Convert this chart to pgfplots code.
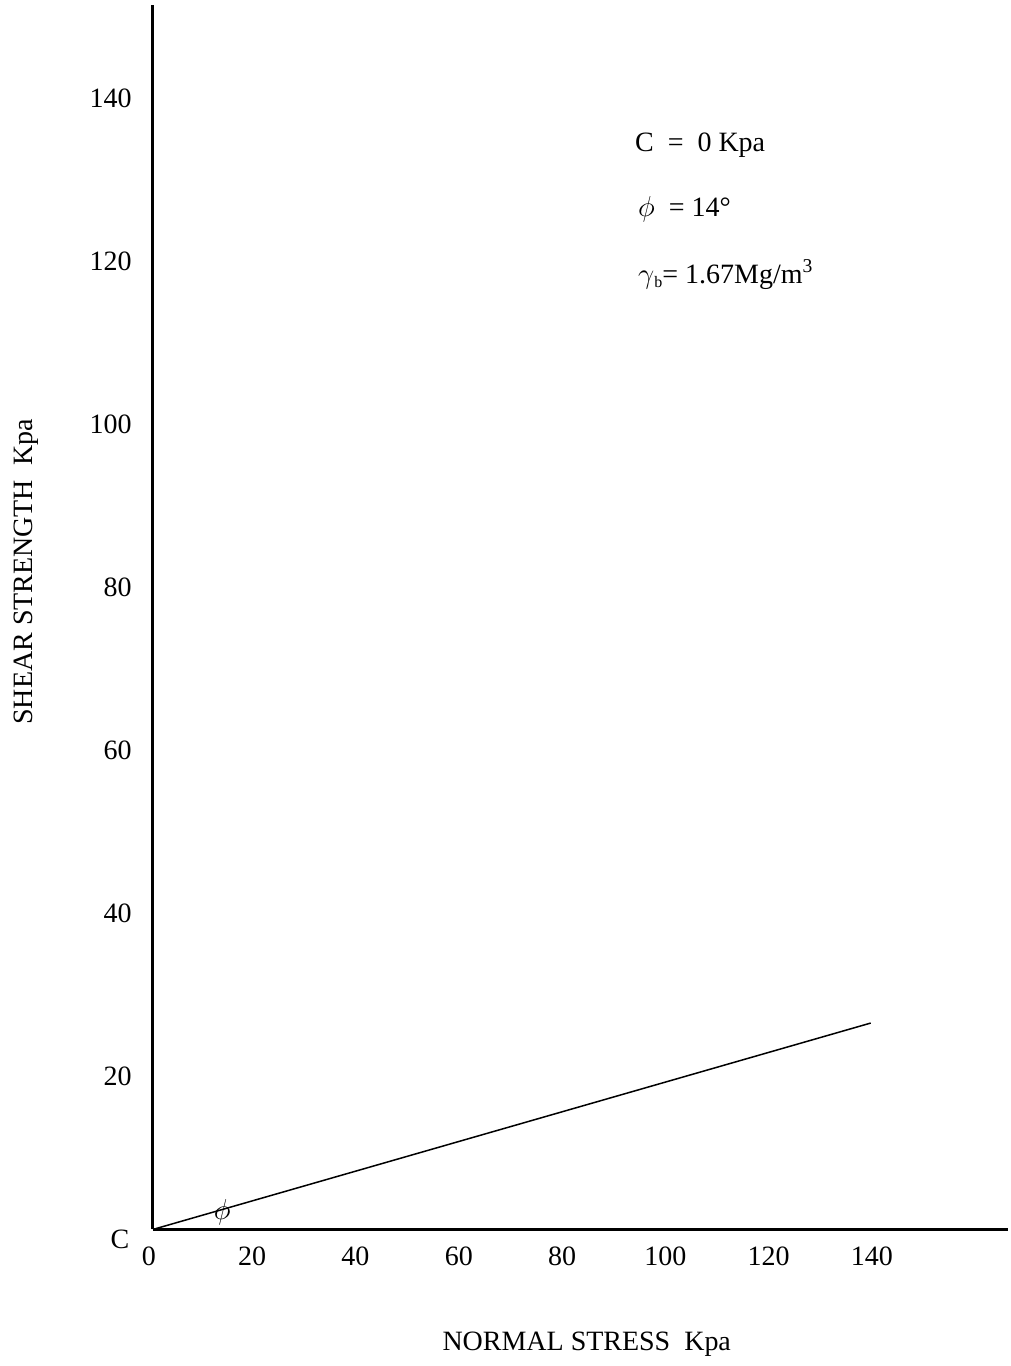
\documentclass[border=0pt]{standalone}
\usepackage{fontspec}
\setmainfont{Liberation Serif}
\usepackage{pgfplots}
\pgfplotsset{compat=1.18}
\begin{document}
\begin{tikzpicture}
\fontsize{14}{16}\selectfont
\begin{axis}[
  at={(0,0)}, anchor=south west,
  scale only axis,
  width=427.5pt, height=612.5pt,
  xmin=0, xmax=165.5, ymin=0, ymax=150.1,
  axis x line*=bottom, axis y line*=left,
  x axis line style={line width=1.2pt,-},
  y axis line style={line width=1.5pt,-},
  major tick length=0pt,
  xtick={0,20,...,140}, ytick={20,40,...,140},
  /pgf/number format/assume math mode=true,
  tick label style={font=\fontsize{14}{16}\selectfont, inner sep=0pt},
  xticklabel style={anchor=north, yshift=-8.5pt, xshift=-2pt},
  yticklabel style={anchor=east, xshift=-10.5pt, yshift=-5.25pt},
  xlabel={NORMAL STRESS\ \ Kpa},
  ylabel={SHEAR STRENGTH\ \ Kpa},
  label style={font=\fontsize{14}{16}\selectfont},
  xlabel style={at={(axis description cs:0.5076,-0.0939)}, anchor=center},
  ylabel style={at={(axis description cs:-0.1486,0.537)}, anchor=center, rotate=0},
  clip=false,
]
\addplot[black, line width=0.75pt] coordinates {(0,0) (139,25.3)};
\node[anchor=base west, inner sep=0pt] at (axis cs:93.3,132.1) {C\ \ =\ \ 0 Kpa};
\node[anchor=base west, inner sep=0pt] at (axis cs:93.9,124.2) {$\phi$\ \ = 14°};
\node[anchor=base west, inner sep=0pt] at (axis cs:93.9,116.0) {$\gamma$\raisebox{-0.35ex}{\footnotesize b}= 1.67Mg/m\textsuperscript{3}};
\node[inner sep=0pt] at (axis cs:13.4,2.1) {$\phi$};
\node[inner sep=0pt] at (axis cs:-6.4,-1.2) {C};
\end{axis}
\useasboundingbox (-76.5pt,-68pt) rectangle (429pt,615pt);
\end{tikzpicture}
\end{document}
